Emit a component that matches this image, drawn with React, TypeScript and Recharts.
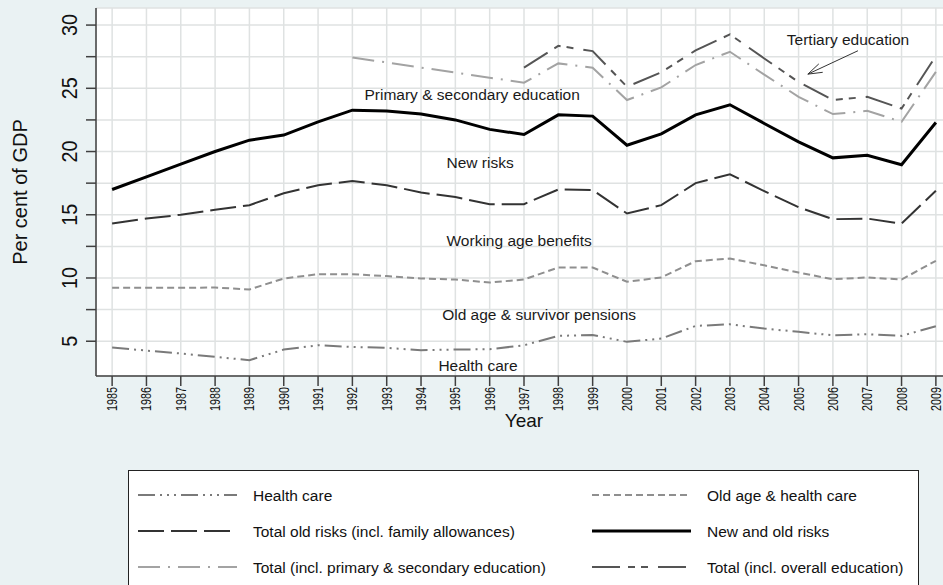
import React from "react";
import {
  LineChart,
  Line,
  XAxis,
  YAxis,
  CartesianGrid,
  Legend,
  ReferenceDot,
  ReferenceLine,
} from "recharts";

const FONT = "'Liberation Sans', Arial, Helvetica, sans-serif";

const years = [
  1985, 1986, 1987, 1988, 1989, 1990, 1991, 1992, 1993, 1994, 1995, 1996, 1997,
  1998, 1999, 2000, 2001, 2002, 2003, 2004, 2005, 2006, 2007, 2008, 2009,
];

const healthCare = [
  4.5, 4.26, 4.03, 3.76, 3.5, 4.34, 4.68, 4.55, 4.47, 4.29, 4.34, 4.37, 4.68,
  5.42, 5.5, 4.95, 5.21, 6.21, 6.34, 6.0, 5.74, 5.47, 5.55, 5.42, 6.19,
];

const oldAgeHealth = [
  9.22, 9.22, 9.22, 9.25, 9.09, 9.96, 10.3, 10.3, 10.15, 9.96, 9.88, 9.64, 9.88,
  10.83, 10.83, 9.7, 10.04, 11.33, 11.54, 11.0, 10.43, 9.9, 10.04, 9.88, 11.36,
];

const totalOldRisks = [
  14.31, 14.7, 15.0, 15.4, 15.76, 16.7, 17.34, 17.66, 17.34, 16.76, 16.4, 15.84,
  15.84, 17.0, 16.95, 15.1, 15.76, 17.5, 18.2, 16.87, 15.6, 14.65, 14.7, 14.3,
  16.9,
];

const newAndOldRisks = [
  17.0, 18.0, 19.0, 20.0, 20.9, 21.3, 22.35, 23.27, 23.2, 22.96, 22.5, 21.75,
  21.35, 22.9, 22.8, 20.5, 21.4, 22.9, 23.7, 22.22, 20.77, 19.5, 19.7, 18.95,
  22.3,
];

const totalPrimSec = [
  null, null, null, null, null, null, null, 27.44, null, null, null, null, 25.44,
  26.97, 26.63, 24.07, 25.07, 26.84, 27.89, 26.08, 24.33, 22.96, 23.22, 22.35,
  26.3,
];

const totalOverallEdu = [
  null, null, null, null, null, null, null, null, null, null, null, null, 26.63,
  28.36, 27.94, 25.12, 26.26, 28.0, 29.26, 27.36, 25.5, 24.07, 24.33, 23.4,
  27.55,
];

const yTicks = [5, 7.5, 10, 12.5, 15, 17.5, 20, 22.5, 25, 27.5, 30];

const annotations = [
  { text: "Tertiary education", x: 2006.44, y: 28.89 },
  { text: "Primary & secondary education", x: 1995.49, y: 24.54 },
  { text: "New risks", x: 1995.72, y: 19.1 },
  { text: "Working age benefits", x: 1996.86, y: 12.93 },
  { text: "Old age & survivor pensions", x: 1997.44, y: 7.14 },
  { text: "Health care", x: 1995.66, y: 3.1 },
];

const arrowFrom = { x: 2006.73, y: 27.97 };
const arrowTo = { x: 2005.27, y: 26.12 };

const series = [
  { key: "health", name: "Health care", values: healthCare, color: "#7a7a7a", width: 2, dash: "17 5 2 5 2 5 2 5" },
  { key: "oldage", name: "Old age & health care", values: oldAgeHealth, color: "#8f8f8f", width: 2, dash: "7 4" },
  { key: "oldrisks", name: "Total old risks (incl. family allowances)", values: totalOldRisks, color: "#333333", width: 2, dash: "26 7" },
  { key: "newold", name: "New and old risks", values: newAndOldRisks, color: "#000000", width: 3, dash: undefined },
  { key: "primsec", name: "Total (incl. primary & secondary education)", values: totalPrimSec, color: "#a3a3a3", width: 2, dash: "22 8 2 8" },
  { key: "overall", name: "Total (incl. overall education)", values: totalOverallEdu, color: "#555555", width: 2, dash: "28 8 7 6 7 10" },
];

const data = years.map((year, i) => {
  const row: any = { year };
  series.forEach((s) => {
    row[s.key] = s.values[i];
  });
  return row;
});

const YTick = (props: any) => {
  const { x, y, payload } = props;
  if (payload.value % 5 !== 0) return <g />;
  const cx = x - 14;
  const label = String(payload.value);
  return (
    <text
      x={cx}
      y={y}
      transform={`rotate(-90 ${cx} ${y})`}
      textAnchor="middle"
      dominantBaseline="central"
      fontSize={22}
      textLength={11 * label.length}
      lengthAdjust="spacingAndGlyphs"
      fontFamily={FONT}
      fill="#111"
    >
      {label}
    </text>
  );
};

const XTick = (props: any) => {
  const { x, y, payload } = props;
  const ty = y - 1;
  return (
    <text
      x={x}
      y={ty}
      transform={`rotate(-90 ${x} ${ty})`}
      textAnchor="end"
      dominantBaseline="central"
      fontSize={14.5}
      textLength={24}
      lengthAdjust="spacingAndGlyphs"
      fontFamily={FONT}
      fill="#111"
    >
      {payload.value}
    </text>
  );
};

const Arrow = (props: any) => {
  const { x1, y1, x2, y2 } = props;
  const ang = Math.atan2(y1 - y2, x1 - x2);
  const len = 15;
  const spread = (18 * Math.PI) / 180;
  const a1 = { x: x2 + len * Math.cos(ang - spread), y: y2 + len * Math.sin(ang - spread) };
  const a2 = { x: x2 + len * Math.cos(ang + spread), y: y2 + len * Math.sin(ang + spread) };
  return (
    <g stroke="#333" strokeWidth={1} fill="none">
      <line x1={x1} y1={y1} x2={x2} y2={y2} />
      <polyline points={`${a1.x},${a1.y} ${x2},${y2} ${a2.x},${a2.y}`} />
    </g>
  );
};

const LegendBox = () => (
  <div
    style={{
      width: 791,
      height: 140,
      background: "#fff",
      border: "1px solid #222",
      boxSizing: "border-box",
    }}
  >
    <svg width={789} height={138} style={{ display: "block" }}>
      {series.map((s, i) => {
        const col = i % 2;
        const row = Math.floor(i / 2);
        const cy = 24 + row * 36;
        const lx = col === 0 ? 9 : 463;
        return (
          <g key={s.key}>
            <line
              x1={lx}
              x2={lx + 99}
              y1={cy}
              y2={cy}
              stroke={s.color}
              strokeWidth={s.width}
              strokeDasharray={s.dash}
            />
            <text
              x={lx + 115}
              y={cy}
              dominantBaseline="central"
              fontSize={15.5}
              fontFamily={FONT}
              fill="#111"
            >
              {s.name}
            </text>
          </g>
        );
      })}
    </svg>
  </div>
);

export default function App() {
  return (
    <div
      style={{
        position: "fixed",
        left: 0,
        top: 0,
        width: 943,
        height: 585,
        overflow: "hidden",
        background: "#eaf2f3",
      }}
    >
      <LineChart
        width={952}
        height={436}
        data={data}
        margin={{ top: 8, right: 0, bottom: 0, left: 0 }}
      >
        <CartesianGrid stroke="#dfe2e2" strokeWidth={1.5} fill="#ffffff" />
        <XAxis
          dataKey="year"
          type="number"
          domain={[1984.53, 2009.47]}
          ticks={years}
          interval={0}
          allowDataOverflow
          height={60}
          tickSize={10}
          axisLine={{ stroke: "#404040", strokeWidth: 1.5 }}
          tickLine={{ stroke: "#404040", strokeWidth: 1.5 }}
          tick={<XTick />}
          label={{
            content: (p: any) => (
              <text
                x={p.viewBox.x + p.viewBox.width / 2}
                y={420}
                textAnchor="middle"
                dominantBaseline="central"
                fontSize={19}
                fontFamily={FONT}
                fill="#111"
              >
                Year
              </text>
            ),
          }}
        />
        <YAxis
          type="number"
          domain={[2.25, 31.35]}
          ticks={yTicks}
          interval={0}
          allowDataOverflow
          width={96}
          tickSize={10}
          axisLine={{ stroke: "#404040", strokeWidth: 1.5 }}
          tickLine={{ stroke: "#404040", strokeWidth: 1.5 }}
          tick={<YTick />}
          label={{
            content: (p: any) => {
              const cx = 19.5;
              const cy = p.viewBox.y + p.viewBox.height / 2;
              return (
                <text
                  x={cx}
                  y={cy}
                  transform={`rotate(-90 ${cx} ${cy})`}
                  textAnchor="middle"
                  dominantBaseline="central"
                  fontSize={20}
                  fontFamily={FONT}
                  fill="#111"
                >
                  Per cent of GDP
                </text>
              );
            },
          }}
        />
        {series.map((s) => (
          <Line
            key={s.key}
            type="linear"
            dataKey={s.key}
            name={s.name}
            stroke={s.color}
            strokeWidth={s.width}
            strokeDasharray={s.dash}
            dot={false}
            activeDot={false}
            connectNulls
            isAnimationActive={false}
          />
        ))}
        {annotations.map((a) => (
          <ReferenceDot
            key={a.text}
            x={a.x}
            y={a.y}
            r={0}
            shape={(p: any) => (
              <text
                x={p.cx}
                y={p.cy}
                textAnchor="middle"
                dominantBaseline="central"
                fontSize={15.5}
                fontFamily={FONT}
                fill="#1a1a1a"
              >
                {a.text}
              </text>
            )}
          />
        ))}
        <ReferenceLine segment={[arrowFrom, arrowTo]} shape={(p: any) => <Arrow {...p} />} />
        <Legend
          layout="horizontal"
          verticalAlign="middle"
          align="center"
          width={791}
          height={140}
          wrapperStyle={{ position: "absolute", top: 470, left: 128, width: 791, height: 140 }}
          content={() => <LegendBox />}
        />
      </LineChart>
    </div>
  );
}
